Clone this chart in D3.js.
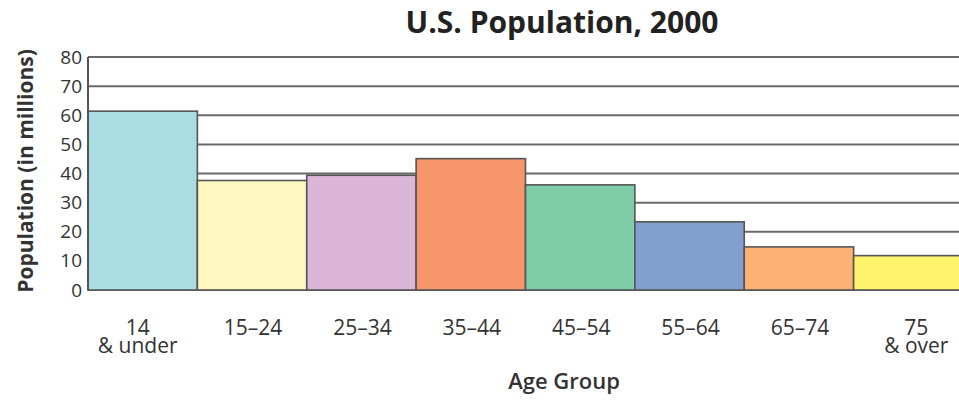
<!DOCTYPE html>
<html>
<head>
<meta charset="utf-8">
<script src="https://cdn.jsdelivr.net/npm/d3@7"></script>
<style>
  html, body { margin: 0; padding: 0; background: #fff; }
  svg { display: block; font-family: "Open Sans", "Noto Sans", sans-serif; }
</style>
</head>
<body>
<svg id="chart" width="959" height="400"></svg>
<script>
// Age groups (two-line labels) and population in millions
const ageGroups = ["14|& under", "15–24", "25–34", "35–44", "45–54", "55–64", "65–74", "75|& over"];
const population = [61.4, 37.6, 39.4, 45.1, 36.1, 23.4, 14.8, 11.8];
const barColors = ["#a9dde3", "#fdf8c0", "#dbb6d8", "#f7966a", "#7fcca8", "#829fd0", "#fdb274", "#fdf46c"];
const yTicks = [0, 10, 20, 30, 40, 50, 60, 70, 80];

const svg = d3.select("#chart");
const margin = { left: 88, right: -4, top: 57, bottom: 110 };
const W = 959, H = 400;

const x = d3.scaleBand()
  .domain(ageGroups)
  .range([margin.left, W - margin.right])
  .padding(0);

const y = d3.scaleLinear()
  .domain([0, 80])
  .range([H - margin.bottom, margin.top]);

// Horizontal grid lines
svg.append("g")
  .selectAll("line")
  .data(yTicks)
  .join("line")
  .attr("x1", margin.left)
  .attr("x2", W)
  .attr("y1", d => y(d))
  .attr("y2", d => y(d))
  .attr("stroke", "#6a6a6a")
  .attr("stroke-width", 2);

// Bars
svg.append("g")
  .selectAll("rect")
  .data(ageGroups)
  .join("rect")
  .attr("x", d => x(d))
  .attr("width", x.bandwidth())
  .attr("y", (d, i) => y(population[i]))
  .attr("height", (d, i) => y(0) - y(population[i]))
  .attr("fill", (d, i) => barColors[i])
  .attr("stroke", "#555")
  .attr("stroke-width", 1.6);

// Left axis line
svg.append("line")
  .attr("x1", margin.left).attr("x2", margin.left)
  .attr("y1", y(80)).attr("y2", y(0))
  .attr("stroke", "#555").attr("stroke-width", 2);

// Y axis tick labels
const yAxis = d3.axisLeft(y).tickValues(yTicks).tickSize(0).tickPadding(6);
const gy = svg.append("g")
  .attr("transform", `translate(${margin.left},0)`)
  .call(yAxis);
gy.select(".domain").remove();
gy.selectAll("text")
  .attr("font-family", "'Open Sans', sans-serif")
  .attr("font-size", 19)
  .attr("fill", "#333");

// X axis labels (two lines where needed); edge labels sit slightly outward
const gx = svg.append("g");
ageGroups.forEach((g, idx) => {
  const lines = g.split("|");
  const nudge = idx === 0 ? -5 : (idx === ageGroups.length - 1 ? 8 : 1);
  const cx = x(g) + x.bandwidth() / 2 + nudge;
  lines.forEach((ln, i) => {
    gx.append("text")
      .attr("x", cx)
      .attr("y", 335 + i * 18)
      .attr("text-anchor", "middle")
      .attr("font-size", 21)
      .attr("fill", "#333")
      .text(ln);
  });
});

// Title
svg.append("text")
  .attr("x", 562).attr("y", 33)
  .attr("text-anchor", "middle")
  .attr("font-size", 30)
  .attr("font-weight", 700)
  .attr("fill", "#222")
  .text("U.S. Population, 2000");

// Axis titles
svg.append("text")
  .attr("x", 564).attr("y", 389)
  .attr("text-anchor", "middle")
  .attr("font-size", 22)
  .attr("font-weight", 600)
  .attr("fill", "#333")
  .text("Age Group");

svg.append("text")
  .attr("transform", "translate(33,171) rotate(-90)")
  .attr("text-anchor", "middle")
  .attr("font-size", 21)
  .attr("font-weight", 700)
  .attr("fill", "#333")
  .text("Population (in millions)");
</script>
</body>
</html>
